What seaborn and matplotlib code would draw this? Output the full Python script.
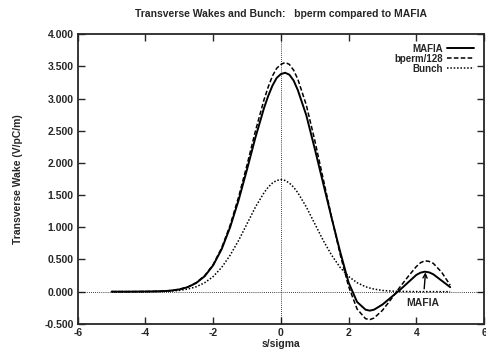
import matplotlib
matplotlib.use("Agg")
import matplotlib.pyplot as plt
import seaborn as sns
import pandas as pd

# s/sigma sample points
s = [-5.0, -4.75, -4.5, -4.25, -4.0, -3.75, -3.5, -3.25, -3.0, -2.75,
     -2.5, -2.25, -2.0, -1.75, -1.5, -1.25, -1.0, -0.75, -0.5, -0.375, -0.25, -0.125,
     0.0, 0.125, 0.25, 0.375, 0.5, 0.75, 1.0, 1.25, 1.5, 1.75, 2.0, 2.25,
     2.5, 2.625, 2.75, 3.0, 3.25, 3.5, 3.75, 4.0, 4.125, 4.25, 4.375, 4.5, 4.75, 5.0]

mafia = [0.0, 0.0, 0.0, 0.001, 0.002, 0.004, 0.007, 0.016, 0.035, 0.07,
         0.135, 0.24, 0.41, 0.66, 1.0, 1.42, 1.9, 2.4, 2.85, 3.04, 3.2, 3.32,
         3.38, 3.40, 3.37, 3.28, 3.13, 2.74, 2.22, 1.68, 1.14, 0.62, 0.14, -0.16,
         -0.28, -0.295, -0.28, -0.2, -0.09, 0.02, 0.14, 0.26, 0.295, 0.31, 0.3, 0.27, 0.17, 0.07]

bperm = [0.0, 0.0, 0.0, 0.001, 0.002, 0.004, 0.008, 0.017, 0.036, 0.073,
         0.14, 0.25, 0.42, 0.68, 1.03, 1.47, 1.97, 2.5, 2.98, 3.18, 3.35, 3.47,
         3.53, 3.56, 3.53, 3.44, 3.3, 2.9, 2.35, 1.75, 1.15, 0.58, 0.08, -0.27,
         -0.42, -0.435, -0.41, -0.29, -0.12, 0.06, 0.23, 0.39, 0.45, 0.48, 0.47, 0.44, 0.3, 0.1]

bunch = [0.0, 0.0, 0.0, 0.0, 0.001, 0.002, 0.004, 0.009, 0.019, 0.04,
         0.076, 0.139, 0.235, 0.376, 0.565, 0.795, 1.055, 1.316, 1.536, 1.623, 1.687, 1.727,
         1.74, 1.727, 1.687, 1.623, 1.536, 1.316, 1.055, 0.795, 0.565, 0.376, 0.235, 0.139,
         0.076, 0.056, 0.04, 0.019, 0.009, 0.004, 0.002, 0.001, 0.0, 0.0, 0.0, 0.0, 0.0, 0.0]

xticks = [-6, -4, -2, 0, 2, 4, 6]
yticks = [-0.5, 0.0, 0.5, 1.0, 1.5, 2.0, 2.5, 3.0, 3.5, 4.0]

sns.set_style("ticks")
plt.rcParams["font.family"] = ["Liberation Sans", "DejaVu Sans"]
plt.rcParams["font.weight"] = "bold"

fig = plt.figure(figsize=(4.86, 3.52), dpi=100)
ax = fig.add_axes([0.160, 0.080, 0.836, 0.823])

df = pd.DataFrame({"s": s, "MAFIA": mafia, "bperm/128": bperm, "Bunch": bunch})

ax.axhline(0, color="black", lw=0.6, ls=(0, (1, 1.5)), zorder=1)
ax.axvline(0, color="black", lw=0.6, ls=(0, (1, 1.5)), zorder=1)

sns.lineplot(data=df, x="s", y="MAFIA", ax=ax, color="black", lw=1.4, label="MAFIA")
sns.lineplot(data=df, x="s", y="bperm/128", ax=ax, color="black", lw=1.1,
             ls=(0, (3, 1.5)), label="bperm/128")
sns.lineplot(data=df, x="s", y="Bunch", ax=ax, color="black", lw=1.1,
             ls=(0, (1, 1.2)), label="Bunch")

fs = 7.5
ax.set_xlim(-6, 6)
ax.set_ylim(-0.5, 4.0)
ax.set_xticks(xticks)
ax.set_xticklabels([str(t) for t in xticks])
ax.set_yticks(yticks)
ax.set_yticklabels([f"{t:.3f}" for t in yticks])
ax.tick_params(direction="in", length=5, width=1, labelsize=fs,
               top=True, right=True, pad=3)
for sp in ax.spines.values():
    sp.set_linewidth(1.3)

ax.set_xlabel("s/sigma", fontsize=fs, fontweight="bold", labelpad=1)
ax.set_ylabel("Transverse Wake (V/pC/m)", fontsize=fs, fontweight="bold", labelpad=15)
ax.set_title("Transverse Wakes and Bunch:   bperm compared to MAFIA",
             fontsize=fs, fontweight="bold", pad=12)

ax.annotate("MAFIA", xy=(4.27, 0.30), xytext=(4.2, -0.17),
            ha="center", va="center", fontsize=fs, fontweight="bold",
            arrowprops=dict(arrowstyle="->", color="black", lw=1.0,
                            shrinkA=4, shrinkB=0))

leg = ax.legend(loc="upper right", frameon=False, markerfirst=False,
                fontsize=7, handlelength=2.8, labelspacing=0.0,
                borderaxespad=0.6, handletextpad=0.4)
for t in leg.get_texts():
    t.set_fontweight("bold")

fig.savefig("out.png", dpi=100)
